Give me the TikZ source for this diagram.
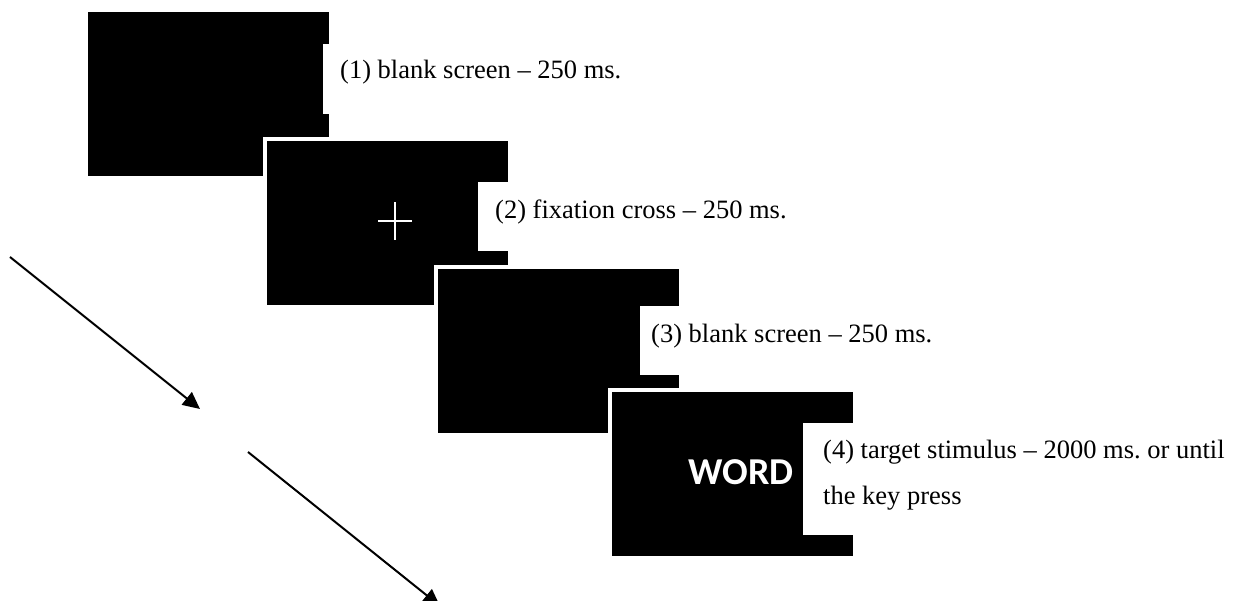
\documentclass[tikz,border=0pt]{standalone}
\usepackage{fontspec}
\setmainfont{Liberation Serif}
\newfontfamily\wordfont{Carlito}
\usetikzlibrary{arrows.meta}
\begin{document}
\frenchspacing
\begin{tikzpicture}[x=1pt,y=-1pt,
  screen/.style={rectangle, fill=black, minimum width=241pt, minimum height=164pt,
    inner sep=0pt, anchor=north west, preaction={draw=white, line width=9pt}},
  label box/.style={rectangle, fill=white, anchor=north west, inner sep=0pt,
    minimum width=120pt},
  caption/.style={anchor=base west, inner sep=0pt, font=\fontsize{26.5}{30}\selectfont},
  flow/.style={line width=2pt, -{Triangle[length=17pt,width=16pt]}}]
\useasboundingbox (0,0) rectangle (1239,601);
% screen 1
\node[screen] (s1) at (88,12) {};
\node[label box, minimum height=70pt] (b1) at (323,44) {};
\node[caption] (t1) at (340,79) {(1) blank screen -- 250 ms.};
% screen 2
\node[screen] (s2) at (267,141) {};
\node[label box, minimum height=69pt] (b2) at (478,182) {};
\node[caption] (t2) at (495,219) {(2) fixation cross -- 250 ms.};
\coordinate (c2) at (395,221);
\draw[white, line width=2.2pt] ([xshift=-17pt]c2) -- ([xshift=17pt]c2)
  ([yshift=-19pt]c2) -- ([yshift=19pt]c2);
% screen 3
\node[screen] (s3) at (438,269) {};
\node[label box, minimum height=69pt] (b3) at (640,306) {};
\node[caption] (t3) at (651,343) {(3) blank screen -- 250 ms.};
% screen 4
\node[screen] (s4) at (612,392) {};
\node[label box, minimum height=112pt] (b4) at (803,423) {};
\node[caption] (t4) at (823,458) {(4) target stimulus -- 2000 ms. or until};
\node[caption] (t4b) at (823,504) {the key press};
\node[text=white, font=\wordfont\bfseries\fontsize{38}{38}\selectfont, inner sep=0pt] (w4) at (741,472) {WORD};
% arrows
\coordinate (a1s) at (10,257);
\coordinate (a1e) at (200,409);
\coordinate (a2s) at (248,452);
\coordinate (a2e) at (440,606);
\draw[flow] (a1s) -- (a1e);
\draw[flow] (a2s) -- (a2e);
\end{tikzpicture}
\end{document}
